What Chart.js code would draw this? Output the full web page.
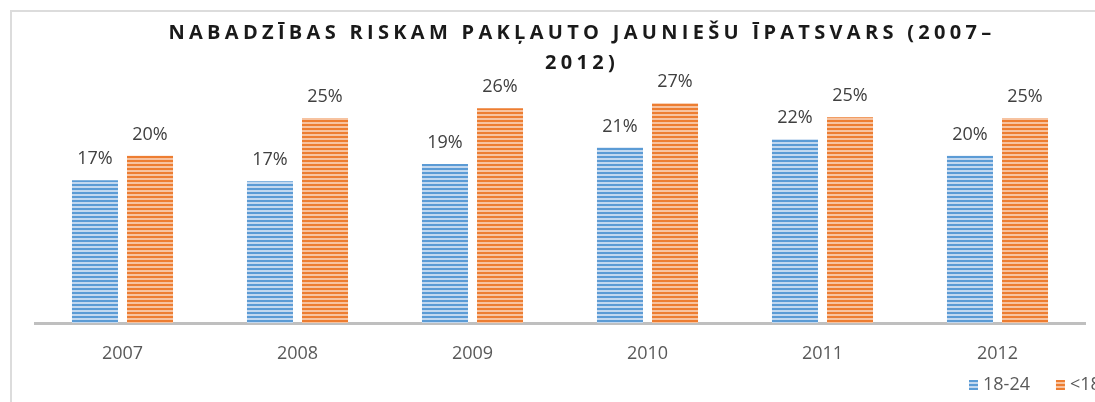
<!DOCTYPE html>
<html>
<head>
<meta charset="utf-8">
<script src="https://cdn.jsdelivr.net/npm/chart.js@4.4.1/dist/chart.umd.min.js"></script>
<style>
    html, body { margin: 0; padding: 0; background: #fff; overflow: hidden; }
    #wrap { position: relative; width: 1095px; height: 402px; overflow: hidden; }
    #frame { position: absolute; left: 10px; top: 10px; width: 1100px; height: 400px;
             border-left: 2px solid #dcdcdc; border-top: 2px solid #dcdcdc; }
    #title { position: absolute; left: 132px; width: 900px; top: 17px; text-align: center;
             font: bold 20px "Open Sans", sans-serif; letter-spacing: 4.3px; line-height: 30px; color: #1a1a1a; }
    #c { position: absolute; left: 0; top: 0; }
</style>
</head>
<body>
<div id="wrap">
    <div id="frame"></div>
    <canvas id="c" width="1115" height="402"></canvas>
    <div id="title">NABADZĪBAS RISKAM PAKĻAUTO JAUNIEŠU ĪPATSVARS (2007–<br>2012)</div>
</div>
<script>
const years = ["2007", "2008", "2009", "2010", "2011", "2012"];
const youth = [17.4, 17.3, 19.4, 21.4, 22.4, 20.4];   // 18-24
const kids = [20.4, 25.0, 26.2, 26.8, 25.1, 25.0];    // <18
const seriesNames = ["18-24", "<18"];

function stripes(dark, light) {
    const p = document.createElement("canvas");
    p.width = 4; p.height = 4;
    const g = p.getContext("2d");
    g.fillStyle = light;
    g.fillRect(0, 0, 4, 4);
    g.fillStyle = dark;
    g.fillRect(0, 0, 4, 2);
    return document.getElementById("c").getContext("2d").createPattern(p, "repeat");
}

const barLabels = {
    id: "barLabels",
    afterDatasetsDraw(chart) {
        const ctx = chart.ctx;
        ctx.save();
        ctx.font = '18px "Open Sans", sans-serif';
        ctx.fillStyle = "#404040";
        ctx.textAlign = "center";
        ctx.textBaseline = "bottom";
        chart.data.datasets.forEach((ds, i) => {
            chart.getDatasetMeta(i).data.forEach((bar, j) => {
                ctx.fillText(Math.round(ds.data[j]) + "%", bar.x, bar.y - 12);
            });
        });
        ctx.restore();
    }
};

// legend drawn by hand, right-aligned (it runs off the right edge like the original)
const sideLegend = {
    id: "sideLegend",
    afterDraw(chart) {
        const ctx = chart.ctx;
        ctx.save();
        ctx.font = '18px "Open Sans", sans-serif';
        ctx.textBaseline = "middle";
        let x = 969;
        const y = 385;
        chart.data.datasets.forEach(ds => {
            ctx.fillStyle = ds.backgroundColor;
            ctx.fillRect(x, y - 5, 9, 10);
            ctx.fillStyle = "#595959";
            ctx.fillText(ds.label, x + 14, y);
            x += 14 + ctx.measureText(ds.label).width + 26;
        });
        ctx.restore();
    }
};

new Chart(document.getElementById("c"), {
    type: "bar",
    data: {
        labels: years,
        datasets: [{
            label: seriesNames[0],
            data: youth,
            backgroundColor: stripes("#5b9bd5", "#c3d8ef"),
            borderWidth: 0
        }, {
            label: seriesNames[1],
            data: kids,
            backgroundColor: stripes("#ed7d31", "#f7c3a0"),
            borderWidth: 0
        }]
    },
    options: {
        responsive: false,
        animation: false,
        categoryPercentage: 0.629,
        barPercentage: 0.836,
        layout: { padding: { left: 35, right: 15, top: 77, bottom: 0 } },
        plugins: {
            title: { display: false },
            tooltip: { enabled: false },
            legend: { display: false }
        },
        scales: {
            x: {
                grid: { display: false },
                border: { color: "#bfbfbf", width: 3 },
                ticks: {
                    color: "#595959",
                    padding: 12,
                    font: { family: "Open Sans", size: 18 }
                },
                afterFit: s => { s.height = 79; }
            },
            y: {
                position: "right",
                min: 0,
                max: 30,
                grid: { display: false },
                border: { display: false },
                ticks: { display: false },
                afterFit: s => { s.width = 15; }
            }
        }
    },
    plugins: [barLabels, sideLegend]
});
</script>
</body>
</html>
